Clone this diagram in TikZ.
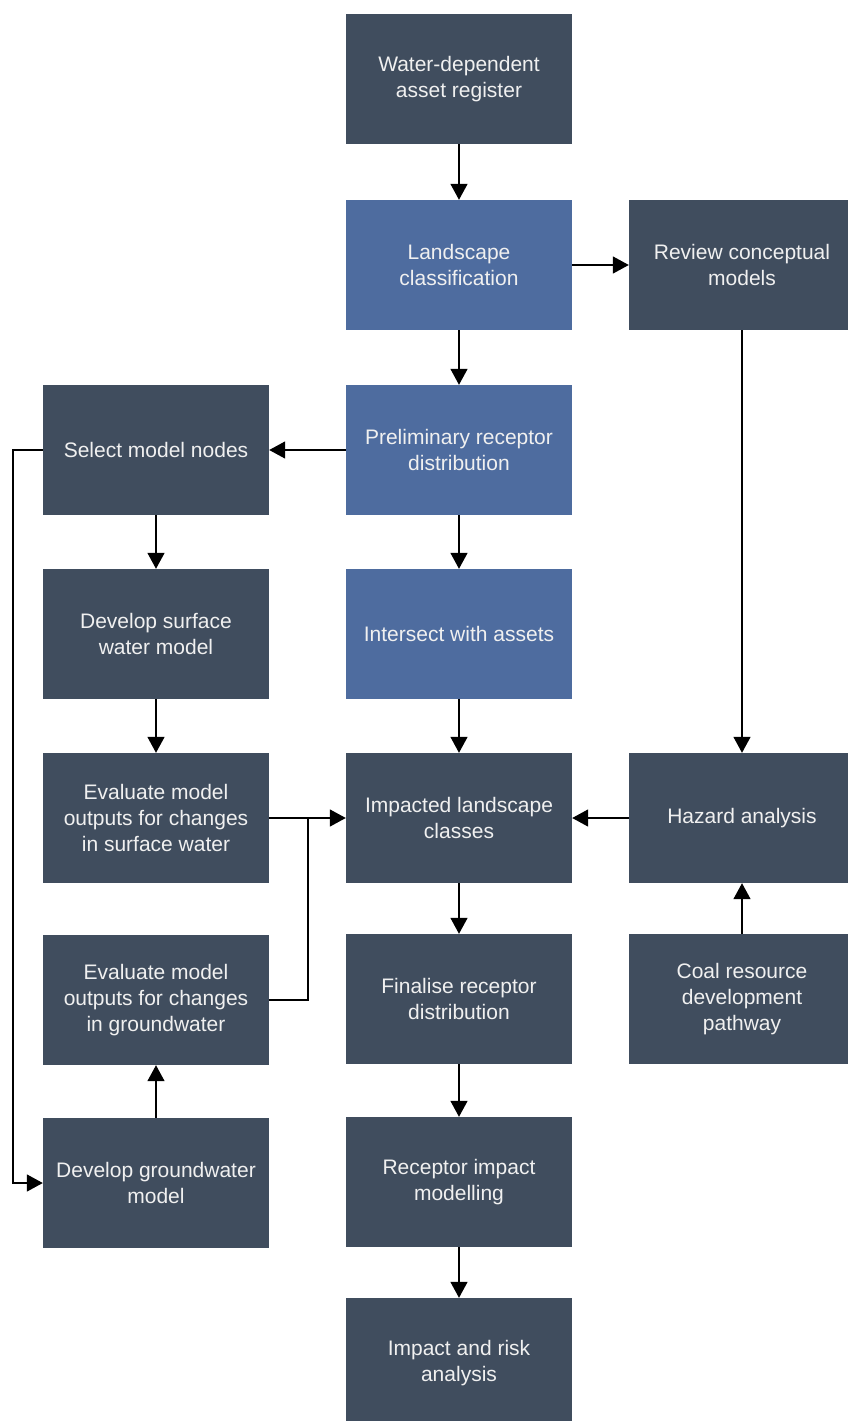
\documentclass[tikz,border=0pt]{standalone}
\usepackage{fontspec}
\setmainfont{Liberation Sans}
\usepackage{tikz}
\usetikzlibrary{arrows.meta,calc}

\definecolor{boxdark}{RGB}{64,77,94}
\definecolor{boxblue}{RGB}{78,108,159}

\begin{document}
\begin{tikzpicture}[x=1pt,y=-1pt,
    stage/.style={fill=boxdark, draw=none, minimum width=226pt, minimum height=130pt,
        text=white!94!black, align=center, inner sep=0pt,
        font=\fontsize{21}{26}\selectfont},
    bluestage/.style={stage, fill=boxblue},
    flow/.style={line width=1.5pt, -{Triangle[length=16pt,width=17pt]}},
    link/.style={line width=1.5pt}]
    \useasboundingbox (0,0) rectangle (848,1421);

    % Centre column
    \node[stage] (asset) at (459,79) {Water-dependent\\asset register};
    \node[bluestage] (landscape) at (459,265) {Landscape\\classification};
    \node[bluestage] (prelim) at (459,450) {Preliminary receptor\\distribution};
    \node[bluestage] (intersect) at (459,634) {Intersect with assets};
    \node[stage] (impacted) at (459,818) {Impacted landscape\\classes};
    \node[stage] (finalise) at (459,999) {Finalise receptor\\distribution};
    \node[stage] (receptor) at (459,1182) {Receptor impact\\modelling};
    \node[stage] (risk) at (459,1363) {Impact and risk\\analysis};

    % Left column (models)
    \node[stage] (select) at (156,450) {Select model nodes};
    \node[stage] (surface) at (156,634) {Develop surface\\water model};
    \node[stage] (evalsw) at (156,818) {Evaluate model\\outputs for changes\\in surface water};
    \node[stage] (evalgw) at (156,1000) {Evaluate model\\outputs for changes\\in groundwater};
    \node[stage] (devgw) at (156,1183) {Develop groundwater\\model};

    % Right column (hazards)
    \node[stage] (review) at (742,265) {Review conceptual\\models};
    \node[stage] (hazard) at (742,818) {Hazard analysis};
    \node[stage] (coal) at (742,999) {Coal resource\\development\\pathway};

    % Arrows down the centre
    \draw[flow] (asset) -- (landscape);
    \draw[flow] (landscape) -- (prelim);
    \draw[flow] (prelim) -- (intersect);
    \draw[flow] (intersect) -- (impacted);
    \draw[flow] (impacted) -- (finalise);
    \draw[flow] (finalise) -- (receptor);
    \draw[flow] (receptor) -- (risk);

    % Side branches
    \draw[flow] (landscape) -- (review);
    \draw[flow] (review) -- (hazard);
    \draw[flow] (coal) -- (hazard);
    \draw[flow] (hazard) -- (impacted);
    \draw[flow] (prelim) -- (select);
    \draw[flow] (select) -- (surface);
    \draw[flow] (surface) -- (evalsw);
    \draw[flow] (devgw) -- (evalgw);
    \draw[flow] (evalsw) -- (impacted);

    % Joins on the left
    \coordinate (gwjoin) at (308,818);
    \coordinate (loop) at (13,450);
    \draw[link] (evalgw.east) -| (gwjoin);
    \draw[flow] (select.west) -- (loop) |- (devgw.west);
\end{tikzpicture}
\end{document}
